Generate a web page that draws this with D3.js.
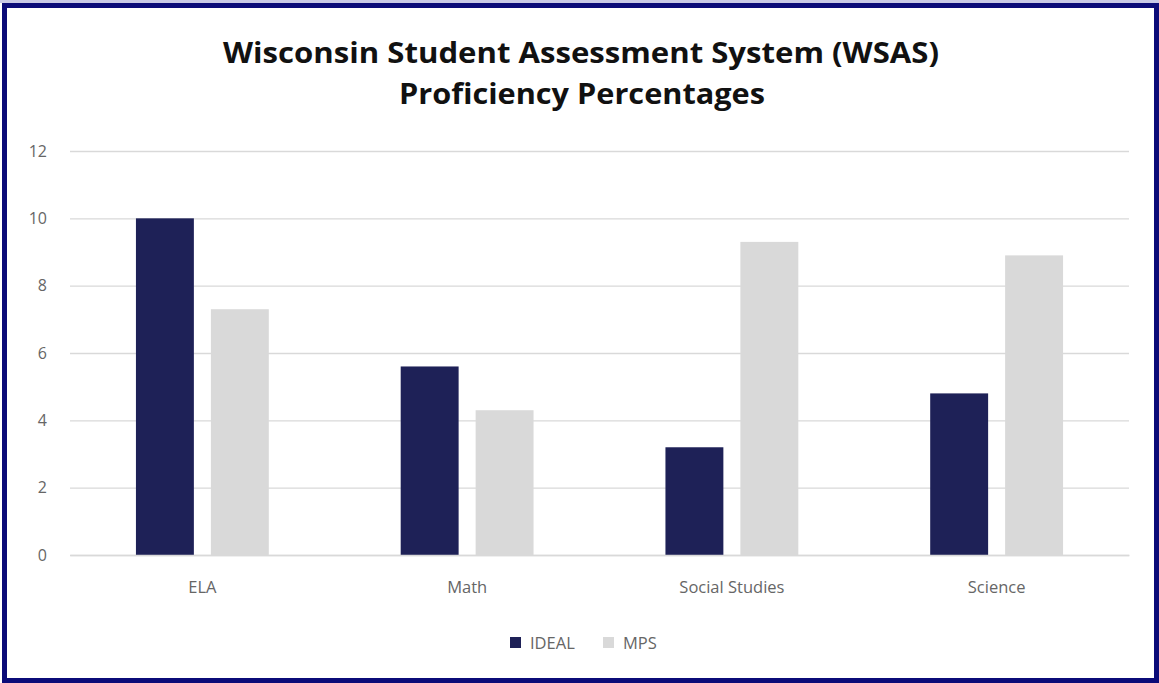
<!DOCTYPE html>
<html>
<head>
<meta charset="utf-8">
<script src="https://cdn.jsdelivr.net/npm/d3@7"></script>
<style>
  html, body { margin: 0; padding: 0; background: #fff; }
  svg { display: block; }
</style>
</head>
<body>
<script>
const categories = ["ELA", "Math", "Social Studies", "Science"];
const seriesNames = ["IDEAL", "MPS"];
const idealValues = [10, 5.6, 3.2, 4.8];
const mpsValues = [7.3, 4.3, 9.3, 8.9];
const yTicks = [0, 2, 4, 6, 8, 10, 12];
const titleLines = ["Wisconsin Student Assessment System (WSAS)", "Proficiency Percentages"];
const colors = ["#1e2157", "#d9d9d9"];

const W = 1159, H = 683;
const svg = d3.select("body").append("svg").attr("width", W).attr("height", H);

svg.append("rect").attr("x", 0).attr("y", 0).attr("width", W).attr("height", H).attr("fill", "#fff");
svg.append("rect").attr("x", 0).attr("y", 0).attr("width", W).attr("height", 3).attr("fill", "#c9c9e6");
svg.append("rect")
  .attr("x", 4.5).attr("y", 5.5).attr("width", 1152).attr("height", 675)
  .attr("fill", "none").attr("stroke", "#0b0b78").attr("stroke-width", 5);

const plot = { left: 70, right: 1129, top: 151, bottom: 555 };

const x0 = d3.scaleBand().domain(categories).range([plot.left, plot.right]).paddingInner(0).paddingOuter(0);
const x1 = d3.scaleBand().domain(seriesNames).range([0, x0.bandwidth()]).paddingInner(0.227).paddingOuter(0.88);
const y = d3.scaleLinear().domain([0, 12]).range([plot.bottom, plot.top]);

// gridlines
const yAxis = d3.axisLeft(y).tickValues(yTicks).tickSize(-(plot.right - plot.left)).tickPadding(23);
const gy = svg.append("g").attr("transform", `translate(${plot.left},0)`).call(yAxis);
gy.select(".domain").remove();
gy.selectAll(".tick line").attr("stroke", "#d9d9d9").attr("stroke-width", 1.3);
gy.selectAll(".tick text")
  .attr("fill", "#666").attr("font-family", "'Open Sans', sans-serif").attr("font-size", 16);

// bars
const data = categories.map((c, i) => ({ cat: c, vals: [
  { s: seriesNames[0], v: idealValues[i] },
  { s: seriesNames[1], v: mpsValues[i] }
]}));

const groups = svg.append("g").selectAll("g").data(data).join("g")
  .attr("transform", d => `translate(${x0(d.cat)},0)`);
groups.selectAll("rect").data(d => d.vals).join("rect")
  .attr("x", d => x1(d.s))
  .attr("width", x1.bandwidth())
  .attr("y", d => y(d.v))
  .attr("height", d => y(0) - y(d.v))
  .attr("fill", (d, i) => colors[i]);

// x axis labels
const xAxis = d3.axisBottom(x0).tickSize(0).tickPadding(26);
const gx = svg.append("g").attr("transform", `translate(0,${plot.bottom})`).call(xAxis);
gx.select(".domain").attr("stroke", "#d9d9d9").attr("stroke-width", 1.3);
gx.selectAll(".tick text")
  .attr("fill", "#666").attr("font-family", "'Open Sans', sans-serif").attr("font-size", 16.5);

// title
const t = svg.append("g");
t.append("text").attr("x", 581).attr("y", 63).attr("text-anchor", "middle")
  .attr("font-family", "'Open Sans', sans-serif").attr("font-weight", "bold").attr("font-size", 28)
  .attr("fill", "#111").attr("textLength", 716).attr("lengthAdjust", "spacingAndGlyphs")
  .text(titleLines[0]);
t.append("text").attr("x", 582).attr("y", 104).attr("text-anchor", "middle")
  .attr("font-family", "'Open Sans', sans-serif").attr("font-weight", "bold").attr("font-size", 28)
  .attr("fill", "#111").attr("textLength", 366).attr("lengthAdjust", "spacingAndGlyphs")
  .text(titleLines[1]);

// legend
const legendX = [510, 603];
const lg = svg.append("g").selectAll("g").data(seriesNames).join("g")
  .attr("transform", (d, i) => `translate(${legendX[i]},637)`);
lg.append("rect").attr("width", 11).attr("height", 11).attr("fill", (d, i) => colors[i]);
lg.append("text").attr("x", 20).attr("y", 11.5)
  .attr("fill", "#666").attr("font-family", "'Open Sans', sans-serif").attr("font-size", 16.5)
  .text(d => d);
</script>
</body>
</html>
